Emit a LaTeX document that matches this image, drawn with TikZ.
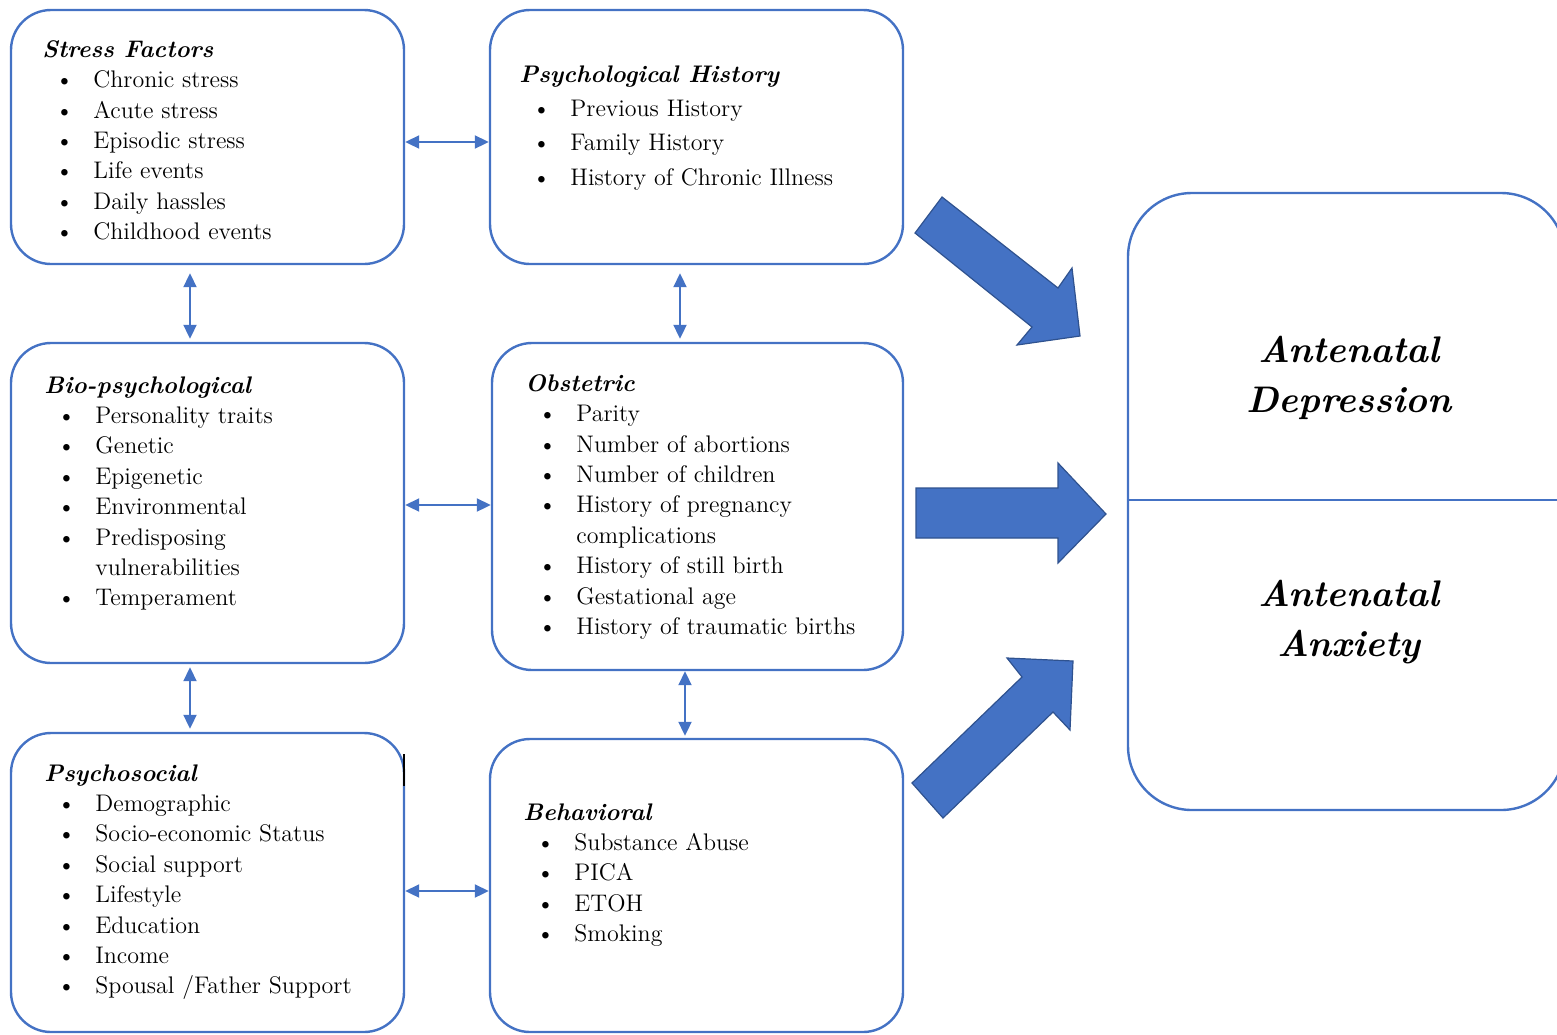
\documentclass[tikz,border=0pt]{standalone}
\usetikzlibrary{arrows.meta,calc}
\definecolor{boxblue}{HTML}{4472C4}
\definecolor{arrowedge}{HTML}{2F528F}
\newcommand{\bitem}[1]{\hspace*{6.5pt}\makebox[19pt][l]{\textbullet}#1}
\newcommand{\bcont}[1]{\hspace*{25.5pt}#1}
\newcommand{\ttlfmt}[1]{{\bfseries\itshape #1}}
\begin{document}
\begin{tikzpicture}[x=0.5pt,y=-0.5pt,
  box/.style={draw=boxblue, line width=1.2pt, rounded corners=20pt, inner sep=0pt},
  bigbox/.style={draw=boxblue, line width=1.2pt, rounded corners=32pt, inner sep=0pt},
  listtext/.style={anchor=north west, inner sep=0pt, align=left, font=\fontsize{12}{15.2}\selectfont},
  dbl/.style={draw=boxblue, line width=1pt, {Triangle[length=7pt,width=6.5pt]}-{Triangle[length=7pt,width=6.5pt]}},
  blockarrow/.style={fill=boxblue, draw=arrowedge, line width=0.6pt, line join=miter},
  outcome/.style={align=center, inner sep=0pt, font=\fontsize{18.5}{25}\selectfont\bfseries\itshape}
]
\useasboundingbox (0,0) rectangle (1557,1034);

% boxes
\node[box, minimum width=196.5pt, minimum height=127pt] (sf) at (207.5,137) {};
\node[box, minimum width=206.5pt, minimum height=127pt] (ph) at (696.5,137) {};
\node[box, minimum width=196.5pt, minimum height=160pt] (bio) at (207.5,503) {};
\node[box, minimum width=205.5pt, minimum height=163.5pt] (ob) at (697.5,506.5) {};
\node[box, minimum width=196.5pt, minimum height=149.5pt] (ps) at (207.5,882.5) {};
\node[box, minimum width=206.5pt, minimum height=146.5pt] (beh) at (696.5,885.5) {};
\node[bigbox, minimum width=218.5pt, minimum height=308.5pt] (out) at (1346.5,501.5) {};
\draw[draw=boxblue, line width=1.2pt] (out.west |- 0,500) -- (out.east |- 0,500);

% stray mark
\coordinate (m1) at (404,754);
\coordinate (m2) at (404,786);
\draw[black, line width=1pt] (m1) -- (m2);

% texts
\node[listtext] (sft) at (42,40) {\ttlfmt{Stress Factors}\\
  \bitem{Chronic stress}\\ \bitem{Acute stress}\\ \bitem{Episodic stress}\\
  \bitem{Life events}\\ \bitem{Daily hassles}\\ \bitem{Childhood events}};

\node[listtext, font=\fontsize{12}{17.2}\selectfont] (pht) at (519,65) {\ttlfmt{Psychological History}\\
  \bitem{Previous History}\\ \bitem{Family History}\\ \bitem{History of Chronic Illness}};

\node[listtext] (biot) at (44,376) {\ttlfmt{Bio-psychological}\\
  \bitem{Personality traits}\\ \bitem{Genetic}\\ \bitem{Epigenetic}\\
  \bitem{Environmental}\\ \bitem{Predisposing}\\ \bcont{vulnerabilities}\\
  \bitem{Temperament}};

\node[listtext] (obt) at (525,374) {\ttlfmt{Obstetric}\\
  \bitem{Parity}\\ \bitem{Number of abortions}\\ \bitem{Number of children}\\
  \bitem{History of pregnancy}\\ \bcont{complications}\\
  \bitem{History of still birth}\\ \bitem{Gestational age}\\
  \bitem{History of traumatic births}};

\node[listtext] (pst) at (44,764) {\ttlfmt{Psychosocial}\\
  \bitem{Demographic}\\ \bitem{Socio-economic Status}\\ \bitem{Social support}\\
  \bitem{Lifestyle}\\ \bitem{Education}\\ \bitem{Income}\\
  \bitem{Spousal /Father Support}};

\node[listtext] (beht) at (523,803) {\ttlfmt{Behavioral}\\
  \bitem{Substance Abuse}\\ \bitem{PICA}\\ \bitem{ETOH}\\ \bitem{Smoking}};

\node[outcome] (dep) at (1349,378) {Antenatal\\Depression};
\node[outcome] (anx) at (1349,622) {Antenatal\\Anxiety};

% double arrows
\draw[dbl] (sf.east |- 0,142) -- (ph.west |- 0,142);
\draw[dbl] (bio.east |- 0,505) -- (ob.west |- 0,505);
\draw[dbl] (ps.east |- 0,891) -- (beh.west |- 0,891);
\draw[dbl, shorten <=4pt, shorten >=1.5pt] (sf.south -| 190,0) -- (bio.north -| 190,0);
\draw[dbl, shorten <=4pt, shorten >=1.5pt] (ph.south -| 680,0) -- (ob.north -| 680,0);
\draw[dbl, shorten <=1.5pt, shorten >=1.5pt] (bio.south -| 190,0) -- (ps.north -| 190,0);
\draw[dbl, shorten <=0pt, shorten >=1pt] (ob.south -| 685,0) -- (beh.north -| 685,0);

% block arrows
\draw[blockarrow] (915,233) -- (942,197) -- (1058,288) -- (1072,268) -- (1080,336) -- (1017,345) -- (1032,327) -- cycle;
\draw[blockarrow] (916,488) -- (1058,488) -- (1058,463) -- (1106,514) -- (1058,563) -- (1058,538) -- (916,538) -- cycle;
\draw[blockarrow] (912,783) -- (1022,677) -- (1007,658) -- (1073,661) -- (1070,730) -- (1053,712) -- (943,818) -- cycle;
\end{tikzpicture}
\end{document}
